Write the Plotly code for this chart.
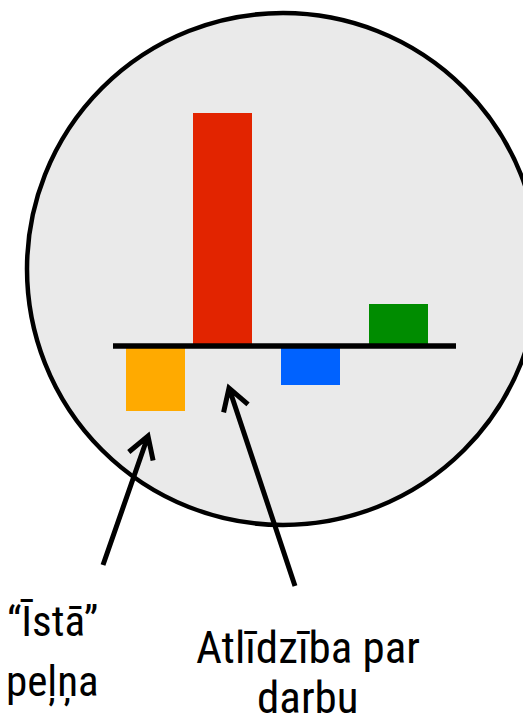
import numpy as np
import plotly.graph_objects as go

W, H = 523, 721
BASE_PX = 346  # pixel row of the zero line

# bars: slot centre on the x axis, value above/below the zero line
bar_pos = [155.5, 222.5, 310.5, 398.5]
bar_vals = [-65, 233, -39, 42]
bar_colors = ["#ffaa00", "#e22400", "#0062ff", "#008c00"]

label_left = ["“Īstā”", "peļņa"]
label_right = ["Atlīdzība par", "darbu"]

FONT = "Roboto Condensed, Liberation Sans, sans-serif"


def yv(p):
    # pixel row -> y value
    return BASE_PX - p


def arrow_path(tail, tip, arm=25, ang=31):
    tx, ty = tail
    hx, hy = tip
    d = np.array([tx - hx, ty - hy], float)
    d /= np.hypot(*d)
    pts = []
    for s in (-1, 1):
        a = np.radians(s * ang)
        r = np.array([d[0] * np.cos(a) - d[1] * np.sin(a),
                      d[0] * np.sin(a) + d[1] * np.cos(a)])
        pts.append((hx + arm * r[0], hy + arm * r[1]))
    f = lambda x, y: f"{x:.1f},{yv(y):.1f}"
    return (f"M{f(tx, ty)} L{f(hx, hy)} "
            f"M{f(*pts[0])} L{f(hx, hy)} L{f(*pts[1])}")


fig = go.Figure(
    go.Bar(
        x=bar_pos,
        y=bar_vals,
        width=59,
        marker=dict(color=bar_colors, line=dict(width=0)),
        hoverinfo="skip",
    )
)

shapes = [
    dict(type="circle", xref="x", yref="y", layer="below",
         x0=283 - 256, x1=283 + 256, y0=yv(269 + 256), y1=yv(269 - 256),
         fillcolor="#eaeaea", line=dict(color="black", width=4.5)),
    dict(type="line", xref="x", yref="y", layer="above",
         x0=113, x1=456, y0=0, y1=0, line=dict(color="black", width=5.5)),
    dict(type="path", xref="x", yref="y", layer="above",
         path=arrow_path((103, 565), (148, 436)),
         line=dict(color="black", width=5)),
    dict(type="path", xref="x", yref="y", layer="above",
         path=arrow_path((295, 586), (229, 388)),
         line=dict(color="black", width=5)),
]

annotations = []
for txt, ypx in zip(label_left, [621, 681]):
    annotations.append(dict(x=52, y=yv(ypx), xref="x", yref="y", text=txt,
                            showarrow=False, xanchor="center", yanchor="middle",
                            font=dict(family=FONT, size=43, color="black")))
for txt, ypx in zip(label_right, [647, 697]):
    annotations.append(dict(x=308, y=yv(ypx), xref="x", yref="y", text=txt,
                            showarrow=False, xanchor="center", yanchor="middle",
                            font=dict(family=FONT, size=45, color="black")))

fig.update_layout(
    width=W, height=H,
    margin=dict(l=0, r=0, t=0, b=0),
    paper_bgcolor="white", plot_bgcolor="white",
    showlegend=False,
    xaxis=dict(range=[0, W], visible=False, fixedrange=True),
    yaxis=dict(range=[yv(H), yv(0)], visible=False, fixedrange=True),
    shapes=shapes,
    annotations=annotations,
)

fig.write_html("out.html", config={"displayModeBar": False},
               post_script="document.body.style.margin='0';")
